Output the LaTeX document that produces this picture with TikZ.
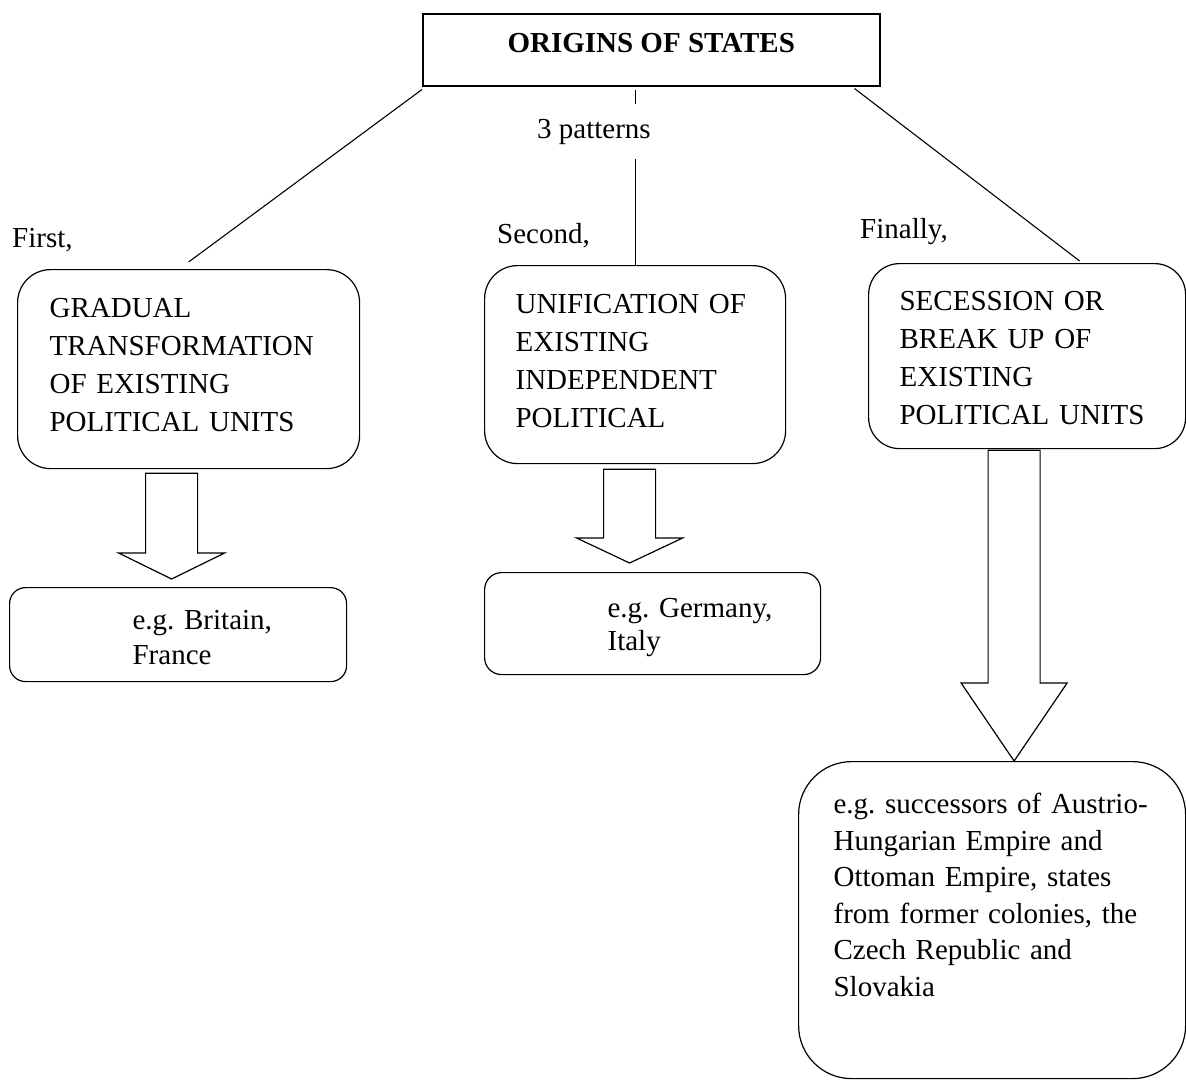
\documentclass[tikz,border=0pt]{standalone}
\usepackage{fontspec}
\setmainfont{Liberation Serif}
\usepackage{tikz}
\usetikzlibrary{calc,positioning}
\frenchspacing

% block arrow from a box down to the next one
\newcommand{\fatarrow}[3]{%
  \draw[fat] let \p1=(#1), \p2=(#2) in
    (\x1-26pt,\y1) -- (\x1-26pt,\y2+#3) -- (\x1-53pt,\y2+#3) -- (\x1,\y2)
    -- (\x1+53pt,\y2+#3) -- (\x1+26pt,\y2+#3) -- (\x1+26pt,\y1) -- cycle;}
\newcommand{\egindent}{\hspace*{123pt}}

\begin{document}
\begin{tikzpicture}[
  x=1pt, y=-1pt,
  every node/.style={font=\fontsize{29}{38}\selectfont},
  box/.style={draw, line width=1.2pt, anchor=north west, align=left, inner ysep=0pt},
  stage/.style={inner sep=0pt, anchor=base west},
  link/.style={line width=1.1pt},
  fat/.style={line width=1.2pt, line join=miter}
]
\useasboundingbox (0,0) rectangle (1186,1080);

\node[draw, line width=1.5pt, anchor=north west, inner xsep=0pt, inner ysep=0pt,
  minimum width=457pt, text height=39pt, text depth=33pt,
  font=\fontsize{29}{38}\selectfont\bfseries] (title) at (422,13) {ORIGINS OF STATES};

\node[box, rounded corners=33pt, inner xsep=32pt, text width=278pt, text height=48pt, text depth=151pt]
  (gradual) at (17,269) {GRADUAL\\TRANSFORMATION\\OF EXISTING\\POLITICAL UNITS};
\node[box, rounded corners=33pt, inner xsep=31pt, text width=239pt, text height=48pt, text depth=150pt]
  (unif) at (484,265) {UNIFICATION OF\\EXISTING\\INDEPENDENT\\POLITICAL};
\node[box, rounded corners=31pt, inner xsep=31pt, text width=255pt, text height=47pt, text depth=138pt]
  (secession) at (868,263) {SECESSION OR\\BREAK UP OF\\EXISTING\\POLITICAL UNITS};

\node[box, rounded corners=16pt, inner xsep=0pt, text width=337pt, text height=42pt, text depth=52pt,
  font=\fontsize{29}{35}\selectfont]
  (britain) at (9,587) {\egindent e.g. Britain,\\\egindent France};
\node[box, rounded corners=17pt, inner xsep=0pt, text width=336pt, text height=45pt, text depth=57pt,
  font=\fontsize{29}{33}\selectfont]
  (germany) at (484,572) {\egindent e.g. Germany,\\\egindent Italy};
\node[box, rounded corners=53pt, inner xsep=35pt, text width=317pt, text height=52pt, text depth=265pt,
  font=\fontsize{29}{36.5}\selectfont]
  (successors) at (798,761) {e.g. successors of Austrio-\\Hungarian Empire and\\Ottoman Empire, states\\from former colonies, the\\Czech Republic and\\Slovakia};

\draw[link] ([yshift=-3pt]title.south west) -- ([yshift=7pt]gradual.north);
\draw[link] ($(title.south -| unif.north)+(0,3)$) -- (unif.north);
\draw[link] ([xshift=-26pt,yshift=-2pt]title.south east) -- ([xshift=52.5pt,yshift=2pt]secession.north);

\node[stage, fill=white, inner xsep=2pt, inner ysep=15pt] (patterns) at (535,138) {3 patterns};
\node[stage] (first) at (12,247) {First,};
\node[stage] (second) at (497,243) {Second,};
\node[stage] (finally) at (860,238) {Finally,};

\fatarrow{[xshift=-17pt,yshift=-4pt]gradual.south}{[yshift=8pt]britain.north}{26pt}
\fatarrow{[xshift=-5.5pt,yshift=-5pt]unif.south}{[yshift=9pt]germany.north}{25pt}
\fatarrow{[xshift=-13pt,yshift=-1pt]secession.south}{successors.north}{78pt}
\end{tikzpicture}
\end{document}
